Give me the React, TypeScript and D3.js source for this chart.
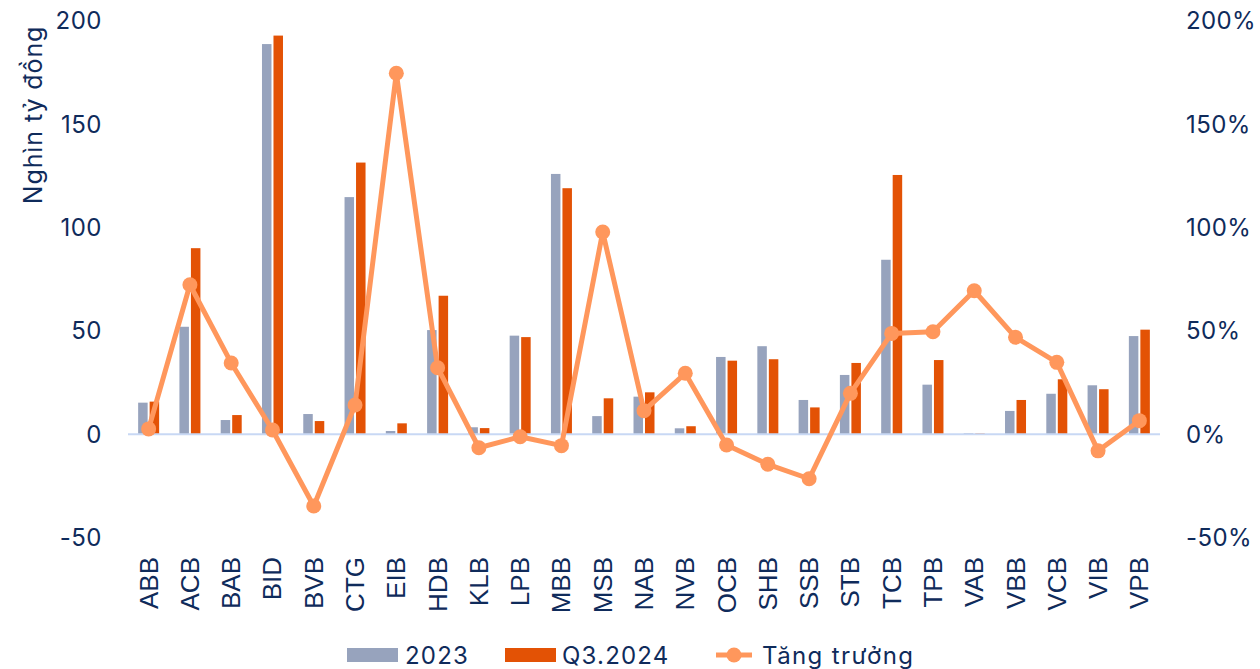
import React from "react";
import * as d3 from "d3";

const categories = ["ABB","ACB","BAB","BID","BVB","CTG","EIB","HDB","KLB","LPB","MBB","MSB","NAB","NVB","OCB","SHB","SSB","STB","TCB","TPB","VAB","VBB","VCB","VIB","VPB"];
const values2023 = [15.3,52.0,6.9,188.7,9.8,114.7,1.6,50.4,3.4,47.7,125.9,8.8,18.2,2.9,37.4,42.6,16.6,28.7,84.4,24.0,0.5,11.3,19.6,23.7,47.5];
const valuesQ3 = [15.8,90.0,9.3,192.8,6.4,131.4,5.3,67.0,3.0,47.0,119.0,17.4,20.3,3.9,35.6,36.3,13.0,34.5,125.4,35.9,0.4,16.6,26.6,21.8,50.6];
const growth = [0.026,0.723,0.345,0.021,-0.347,0.142,1.746,0.322,-0.065,-0.012,-0.055,0.978,0.114,0.295,-0.052,-0.145,-0.215,0.198,0.488,0.496,0.694,0.469,0.348,-0.08,0.066];
const leftTicks = [-50,0,50,100,150,200];
const rightTicks = [-0.5,0,0.5,1,1.5,2];
const legendLabels = ["2023","Q3.2024","Tăng trưởng"];

const NAVY = "#0F2B5B";
const GRAY = "#97A3BD";
const ORANGE = "#E35205";
const LINE = "#FF975C";
const FONT = "Inter, 'Noto Sans', sans-serif";

export default function App() {
  const W = 1260, H = 669;
  const x = d3.scaleBand<string>().domain(categories).range([128, 1160]).paddingInner(0).paddingOuter(0);
  const yL = d3.scaleLinear().domain([-50, 200]).range([537.7, 20.7]);
  const yR = d3.scaleLinear().domain([-0.5, 2]).range([537.7, 20.7]);
  const bw = 9.5, gap = 2;
  const cx = (c: string) => (x(c) as number) + x.bandwidth() / 2;
  const line = d3.line<number>().x((_, i) => cx(categories[i])).y(d => yR(d));
  const pct = (t: number) => d3.format(".0%")(t).replace("\u2212", "-");

  return (
    <svg width={W} height={H} style={{ position: "absolute", left: 0, top: 0, background: "#fff" }}>
      {categories.map((c, i) => (
        <g key={c}>
          <rect x={cx(c) - gap / 2 - bw} y={yL(Math.max(0, values2023[i]))} width={bw} height={Math.abs(yL(values2023[i]) - yL(0))} fill={GRAY} />
          <rect x={cx(c) + gap / 2} y={yL(Math.max(0, valuesQ3[i]))} width={bw} height={Math.abs(yL(valuesQ3[i]) - yL(0))} fill={ORANGE} />
        </g>
      ))}
      <line x1={128} x2={1160} y1={yL(0)} y2={yL(0)} stroke="#C8D8F4" strokeWidth={2} />
      <path d={line(growth) || ""} fill="none" stroke={LINE} strokeWidth={5} strokeLinejoin="round" />
      {growth.map((g, i) => (
        <circle key={i} cx={cx(categories[i])} cy={yR(g)} r={7.5} fill={LINE} />
      ))}
      {leftTicks.map(t => (
        <text key={t} x={102} y={yL(t)} textAnchor="end" dominantBaseline="central" fontFamily={FONT} fontSize={24} letterSpacing={0.5} fill={NAVY}>{t}</text>
      ))}
      {rightTicks.map(t => (
        <text key={t} x={1186} y={yR(t)} textAnchor="start" dominantBaseline="central" fontFamily={FONT} fontSize={24} letterSpacing={0.4} fill={NAVY}>{pct(t)}</text>
      ))}
      <text transform={`translate(33,115) rotate(-90)`} textAnchor="middle" dominantBaseline="central" fontFamily={FONT} fontSize={25} letterSpacing={0.9} fill={NAVY}>Nghìn tỷ đồng</text>
      {categories.map(c => (
        <text key={c} transform={`translate(${cx(c)},557) rotate(-90)`} textAnchor="end" dominantBaseline="central" fontFamily="'Liberation Sans', Arial, sans-serif" fontSize={26} fill={NAVY}>{c}</text>
      ))}
      <rect x={347} y={648} width={51} height={14} fill={GRAY} />
      <text x={405} y={655} dominantBaseline="central" fontFamily={FONT} fontSize={24} letterSpacing={1.2} fill={NAVY}>{legendLabels[0]}</text>
      <rect x={505} y={648} width={51} height={14} fill={ORANGE} />
      <text x={562} y={655} dominantBaseline="central" fontFamily={FONT} fontSize={24} letterSpacing={1.2} fill={NAVY}>{legendLabels[1]}</text>
      <line x1={716} x2={752} y1={655} y2={655} stroke={LINE} strokeWidth={5} />
      <circle cx={734} cy={655} r={7.5} fill={LINE} />
      <text x={762} y={655} dominantBaseline="central" fontFamily={FONT} fontSize={24} letterSpacing={1.4} fill={NAVY}>{legendLabels[2]}</text>
    </svg>
  );
}
